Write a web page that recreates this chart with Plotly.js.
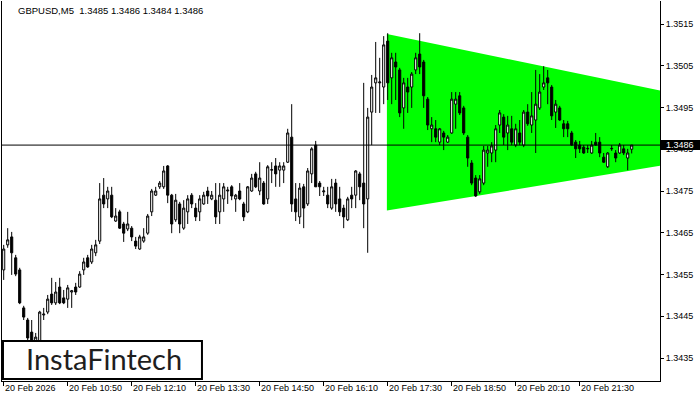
<!DOCTYPE html>
<html>
<head>
<meta charset="utf-8">
<script src="https://cdn.plot.ly/plotly-3.0.1.min.js"></script>
<style>html,body{margin:0;padding:0;background:#fff;}#chart{width:700px;height:400px;}</style>
</head>
<body>
<div id="chart"></div>
<script>
const symbolTitle = "GBPUSD,M5\u00a0\u00a01.3485 1.3486 1.3484 1.3486";
const logoText = "InstaFintech";

const opens = [
1.34561,1.34621,1.34640,1.34590,1.34561,1.34470,1.34441,1.34412,1.34381,1.34381,
1.34453,1.34460,1.34503,1.34482,1.34520,1.34494,1.34491,1.34508,1.34520,1.34520,
1.34561,1.34590,1.34580,1.34602,1.34630,1.34740,1.34731,1.34740,1.34678,1.34700,
1.34671,1.34659,1.34661,1.34630,1.34611,1.34630,1.34649,1.34700,1.34740,1.34760,
1.34760,1.34810,1.34740,1.34681,1.34719,1.34661,1.34700,1.34740,1.34709,1.34700,
1.34719,1.34750,1.34731,1.34728,1.34700,1.34731,1.34750,1.34760,1.34731,1.34750,
1.34719,1.34700,1.34750,1.34791,1.34750,1.34769,1.34731,1.34800,1.34810,1.34800,
1.34800,1.34819,1.34879,1.34731,1.34688,1.34760,1.34719,1.34791,1.34860,1.34769,
1.34748,1.34740,1.34709,1.34769,1.34731,1.34709,1.34681,1.34740,1.34740,1.34791,
1.34769,1.34731,1.34939,1.35009,1.35009,1.34999,1.35109,1.35021,1.35059,1.35040,
1.34949,1.34999,1.34999,1.35040,1.35078,1.35059,1.34970,1.34899,1.34899,1.34867,
1.34889,1.34867,1.34889,1.34958,1.34978,1.34949,1.34879,1.34817,1.34781,1.34748,
1.34769,1.34841,1.34841,1.34848,1.34908,1.34927,1.34889,1.34899,1.34860,1.34889,
1.34860,1.34939,1.34908,1.34920,1.34949,1.34999,1.35021,1.34999,1.34939,1.34949,
1.34911,1.34911,1.34889,1.34867,1.34860,1.34855,1.34851,1.34841,1.34867,1.34867,
1.34831,1.34808,1.34851,1.34841,1.34841,1.34851,1.34829,1.34850];

const highs = [
1.34621,1.34661,1.34652,1.34597,1.34566,1.34475,1.34446,1.34441,1.34410,1.34463,
1.34470,1.34501,1.34542,1.34532,1.34542,1.34513,1.34525,1.34513,1.34530,1.34558,
1.34590,1.34597,1.34621,1.34633,1.34769,1.34781,1.34760,1.34760,1.34709,1.34705,
1.34676,1.34700,1.34666,1.34640,1.34645,1.34661,1.34695,1.34755,1.34760,1.34774,
1.34810,1.34812,1.34743,1.34743,1.34724,1.34728,1.34740,1.34745,1.34721,1.34740,
1.34748,1.34760,1.34750,1.34769,1.34769,1.34769,1.34760,1.34764,1.34743,1.34769,
1.34724,1.34762,1.34791,1.34796,1.34819,1.34774,1.34812,1.34819,1.34829,1.34819,
1.34819,1.34899,1.34958,1.34769,1.34769,1.34767,1.34805,1.34855,1.34870,1.34774,
1.34760,1.34760,1.34779,1.34779,1.34760,1.34717,1.34736,1.34760,1.34800,1.34796,
1.35009,1.34949,1.35028,1.35107,1.35069,1.35121,1.35128,1.35081,1.35081,1.35045,
1.35021,1.35021,1.35035,1.35081,1.35128,1.35064,1.34975,1.34927,1.34920,1.34901,
1.34894,1.34884,1.34987,1.34987,1.34987,1.34954,1.34884,1.34824,1.34788,1.34788,
1.34858,1.34858,1.34867,1.34908,1.34944,1.34934,1.34930,1.34930,1.34911,1.34920,
1.34944,1.34958,1.34987,1.35040,1.35030,1.35049,1.35040,1.35004,1.34968,1.34954,
1.34920,1.34918,1.34894,1.34872,1.34870,1.34860,1.34860,1.34870,1.34889,1.34879,
1.34841,1.34843,1.34860,1.34848,1.34865,1.34860,1.34851,1.34860];

const lows = [
1.34537,1.34614,1.34549,1.34546,1.34479,1.34441,1.34381,1.34364,1.34364,1.34364,
1.34441,1.34455,1.34477,1.34477,1.34479,1.34479,1.34470,1.34470,1.34501,1.34518,
1.34549,1.34566,1.34575,1.34594,1.34623,1.34709,1.34709,1.34685,1.34676,1.34659,
1.34628,1.34654,1.34630,1.34611,1.34609,1.34626,1.34645,1.34690,1.34738,1.34755,
1.34755,1.34721,1.34649,1.34676,1.34649,1.34657,1.34671,1.34709,1.34678,1.34678,
1.34717,1.34719,1.34728,1.34671,1.34671,1.34700,1.34719,1.34728,1.34700,1.34728,
1.34678,1.34697,1.34748,1.34757,1.34740,1.34717,1.34719,1.34769,1.34760,1.34760,
1.34769,1.34817,1.34700,1.34678,1.34671,1.34661,1.34714,1.34769,1.34760,1.34738,
1.34738,1.34709,1.34705,1.34700,1.34690,1.34661,1.34678,1.34709,1.34709,1.34728,
1.34661,1.34602,1.34860,1.34937,1.34937,1.34958,1.34968,1.34958,1.34968,1.34927,
1.34899,1.34937,1.34949,1.35030,1.35030,1.34949,1.34896,1.34867,1.34867,1.34860,
1.34848,1.34865,1.34887,1.34899,1.34932,1.34884,1.34808,1.34764,1.34736,1.34743,
1.34764,1.34808,1.34819,1.34819,1.34889,1.34860,1.34848,1.34860,1.34855,1.34860,
1.34855,1.34906,1.34889,1.34841,1.34944,1.34992,1.34958,1.34920,1.34901,1.34918,
1.34879,1.34879,1.34858,1.34829,1.34841,1.34839,1.34841,1.34839,1.34858,1.34831,
1.34817,1.34805,1.34846,1.34819,1.34839,1.34836,1.34800,1.34840];

const closes = [
1.34611,1.34633,1.34602,1.34551,1.34482,1.34448,1.34398,1.34379,1.34400,1.34460,
1.34455,1.34491,1.34482,1.34508,1.34482,1.34482,1.34518,1.34511,1.34508,1.34551,
1.34580,1.34568,1.34611,1.34621,1.34731,1.34719,1.34750,1.34688,1.34690,1.34661,
1.34649,1.34671,1.34640,1.34618,1.34640,1.34640,1.34690,1.34750,1.34750,1.34769,
1.34798,1.34740,1.34671,1.34728,1.34671,1.34709,1.34731,1.34719,1.34688,1.34731,
1.34740,1.34738,1.34740,1.34688,1.34740,1.34760,1.34752,1.34738,1.34740,1.34731,
1.34688,1.34760,1.34781,1.34760,1.34781,1.34719,1.34808,1.34801,1.34791,1.34810,
1.34810,1.34889,1.34719,1.34700,1.34757,1.34709,1.34798,1.34851,1.34760,1.34760,
1.34750,1.34719,1.34760,1.34719,1.34700,1.34688,1.34731,1.34731,1.34798,1.34760,
1.34719,1.34927,1.34999,1.35021,1.35011,1.35100,1.35009,1.35069,1.35047,1.34937,
1.35009,1.34987,1.35030,1.35069,1.35047,1.34978,1.34908,1.34908,1.34879,1.34899,
1.34879,1.34879,1.34970,1.34970,1.34937,1.34889,1.34829,1.34769,1.34738,1.34779,
1.34848,1.34848,1.34858,1.34899,1.34937,1.34879,1.34908,1.34867,1.34899,1.34867,
1.34939,1.34911,1.34930,1.34958,1.34987,1.35009,1.35009,1.34930,1.34958,1.34920,
1.34899,1.34899,1.34860,1.34851,1.34851,1.34841,1.34852,1.34860,1.34860,1.34841,
1.34819,1.34841,1.34852,1.34829,1.34860,1.34841,1.34841,1.34860];

// time axis: 5-minute bars from 20 Feb 2026 09:30
const startTime = Date.UTC(2026, 1, 20, 9, 30);
const barMs = 5 * 60 * 1000;
const times = opens.map((_, i) => startTime + i * barMs);

const timeTickBars = [0, 16, 32, 48, 64, 80, 96, 112, 128, 144];
const timeTickLabels = ["20 Feb 2026", "20 Feb 10:50", "20 Feb 12:10", "20 Feb 13:30", "20 Feb 14:50",
  "20 Feb 16:10", "20 Feb 17:30", "20 Feb 18:50", "20 Feb 20:10", "20 Feb 21:30"];

const priceTicks = [1.3435, 1.3445, 1.3455, 1.3465, 1.3475, 1.3485, 1.3495, 1.3505, 1.3515];
const priceTickLabels = ["1.3435", "1.3445", "1.3455", "1.3465", "1.3475", "1.3485", "1.3495", "1.3505", "1.3515"];

// triangle pattern: bar positions and prices of its corners
const triangleBars = [95.8, 95.8, 214.8];
const trianglePrices = [1.35126, 1.34703, 1.34890];

const yRange = [1.342949, 1.352051];
const xRange = [startTime - 0.425 * barMs, startTime + 164.075 * barMs];
const lastPrice = closes[closes.length - 1];
const lastPaperY = (lastPrice - yRange[0]) / (yRange[1] - yRange[0]);

function barToPathDate(b) {
  // date axes in shape paths use "_" between date and time
  return new Date(startTime + b * barMs).toISOString().replace("T", "_").replace("Z", "");
}
const trianglePath = triangleBars.map((b, k) =>
  (k === 0 ? "M" : "L") + barToPathDate(b) + "," + trianglePrices[k]).join("") + "Z";

const axisFont = {family: "Liberation Sans, Arial, sans-serif", size: 9, color: "#000"};

const traces = [
  {
    type: "candlestick",
    x: times, open: opens, high: highs, low: lows, close: closes,
    increasing: {line: {color: "#000", width: 1}, fillcolor: "#ffffff"},
    decreasing: {line: {color: "#000", width: 1}, fillcolor: "#000000"},
    whiskerwidth: 0,
    hoverinfo: "skip", showlegend: false
  }
];

const annotations = timeTickBars.map((b, k) => ({
  x: startTime + b * barMs, xref: "x", y: -0.003, yref: "paper",
  xanchor: "left", yanchor: "top", text: timeTickLabels[k], showarrow: false,
  font: axisFont, borderpad: 0
}));
annotations.push({
  x: 1.0072, xref: "paper", y: lastPrice, yref: "y", xanchor: "left", yanchor: "middle",
  text: lastPrice.toFixed(4), showarrow: false, borderpad: 0,
  font: {family: axisFont.family, size: 9, color: "#fff"}
});
annotations.push({
  x: 0.1557, xref: "paper", y: 0.058, yref: "paper", xanchor: "center", yanchor: "middle",
  text: logoText, showarrow: false, borderpad: 0,
  font: {family: "Lato, sans-serif", size: 29, color: "#1e1e1e"}
});

const layout = {
  width: 700, height: 400,
  margin: {l: 2, r: 40, t: 1, b: 19, pad: 0},
  paper_bgcolor: "#fff", plot_bgcolor: "#fff",
  showlegend: false,
  boxgap: 0.25,
  title: {
    text: symbolTitle, xref: "container", yref: "container",
    x: 18 / 700, xanchor: "left", y: 1 - 11 / 400, yanchor: "middle",
    font: {family: "Liberation Sans, Arial, sans-serif", size: 9.5, color: "#000"}
  },
  xaxis: {
    type: "date", range: xRange, fixedrange: true,
    rangeslider: {visible: false},
    showgrid: false, zeroline: false,
    showline: true, linecolor: "#000", linewidth: 1, mirror: false,
    tickmode: "array", tickvals: timeTickBars.map(b => startTime + b * barMs),
    ticks: "outside", ticklen: 4, tickcolor: "#000", tickwidth: 1,
    showticklabels: false
  },
  yaxis: {
    side: "right", range: yRange, fixedrange: true,
    showgrid: false, zeroline: false,
    showline: true, linecolor: "#000", linewidth: 1, mirror: true,
    tickmode: "array", tickvals: priceTicks, ticktext: priceTickLabels,
    ticks: "outside", ticklen: 3, tickcolor: "#000", tickwidth: 1,
    tickfont: axisFont
  },
  shapes: [
    {type: "path", xref: "x", yref: "y", path: trianglePath,
     fillcolor: "#00ff00", opacity: 1, line: {width: 0}, layer: "below"},
    {type: "line", xref: "paper", x0: 0, x1: 1, yref: "y", y0: lastPrice, y1: lastPrice,
     line: {color: "#000", width: 1}, opacity: 1, layer: "above"},
    {type: "rect", xref: "paper", x0: 1.0, x1: 1.0608, yref: "paper",
     y0: lastPaperY - 0.0132, y1: lastPaperY + 0.0132,
     fillcolor: "#000", opacity: 1, line: {width: 0}, layer: "above"},
    {type: "rect", xref: "paper", x0: 0.0015, x1: 0.3039, yref: "paper", y0: 0.005, y1: 0.1053,
     fillcolor: "#fff", opacity: 1, line: {color: "#000", width: 2}, layer: "above"}
  ],
  annotations: annotations
};

Plotly.newPlot("chart", traces, layout, {staticPlot: true, displayModeBar: false});
</script>
</body>
</html>
